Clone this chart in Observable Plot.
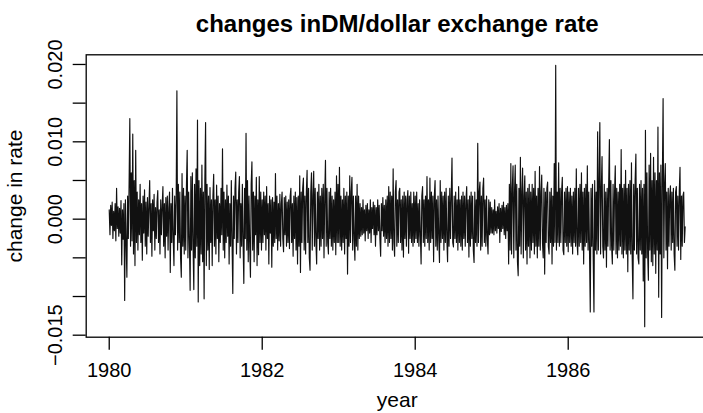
<!DOCTYPE html>
<html><head><meta charset="utf-8">
<script src="https://cdn.jsdelivr.net/npm/d3@7"></script>
<script src="https://cdn.jsdelivr.net/npm/@observablehq/plot@0.6"></script>
<style>html,body{margin:0;padding:0;background:#fff}svg{display:block}</style>
</head><body><div id="chart"></div>
<script>
const title = "changes inDM/dollar exchange rate";
const xLabel = "year";
const yLabel = "change in rate";
const xTicks = [1980, 1982, 1984, 1986];
const yTicks = [-0.015, -0.01, -0.005, 0, 0.005, 0.01, 0.015, 0.02];
const yLabelled = [0.02, 0.01, 0, -0.015];
const yLabelText = ["0.020", "0.010", "0.000", "\u22120.015"];
const firstYear = 1980;
const obsPerYear = 104;

const v1980 = [
.0012,-.0020,.0018,-.0008,.0022,-.0025,.0010,-.0015,.0020,-.0028,.0040,-.0012,.0016,
-.0022,.0014,-.0018,.0024,-.0059,.0012,-.0026,.0020,-.0105,.0025,-.0030,-.0075,.0030,
-.0025,.0045,.0130,-.0035,.0060,-.0028,.0110,-.0045,.0050,-.0060,.0089,-.0030,.0035,
-.0040,.0025,-.0020,.0045,-.0030,.0020,-.0053,.0030,-.0018,.0038,-.0035,.0022,-.0045,
.0028,-.0022,.0018,.0050,-.0030,.0020,-.0048,.0025,-.0015,.0032,-.0040,.0015,-.0025,
.0022,.0037,-.0030,.0012,-.0045,.0025,-.0020,.0018,.0042,-.0035,.0020,-.0050,.0028,
-.0022,.0030,-.0040,.0015,.0035,-.0069,.0020,-.0030,.0040,-.0025,-.0060,.0030,-.0020,
.0025,.0166,-.0040,.0045,-.0030,.0035,-.0050,-.0075,.0059,-.0035,.0040,-.0045,.0030];
const v1981 = [
-.0040,.0045,.0089,-.0050,.0035,-.0030,-.0092,.0055,-.0040,.0060,-.0035,-.0091,.0045,
-.0050,.0065,-.0035,.0128,-.0107,.0050,-.0060,.0040,-.0045,.0070,-.0055,.0035,-.0103,
.0050,.0125,-.0060,.0045,-.0040,.0030,-.0065,.0041,-.0030,.0025,-.0060,.0030,.0058,
-.0035,.0025,-.0045,.0044,-.0025,.0030,-.0055,.0020,-.0030,.0040,-.0020,.0091,-.0040,
.0035,-.0050,.0025,-.0030,.0044,-.0022,.0030,-.0058,.0020,-.0035,.0050,-.0030,-.0096,
.0030,-.0025,.0040,.0061,-.0045,.0025,-.0030,.0035,.0055,-.0050,.0020,-.0035,.0045,
-.0030,-.0083,.0040,-.0025,.0111,-.0040,.0050,-.0055,.0030,-.0035,-.0075,.0045,.0074,
-.0040,.0035,-.0055,.0030,-.0020,.0054,-.0060,.0025,-.0046,.0055,-.0030,.0035,-.0040];
const v1982 = [
.0025,-.0030,.0035,-.0020,.0030,-.0040,.0042,-.0025,.0020,-.0058,.0030,-.0018,.0025,
-.0062,.0028,-.0035,.0022,-.0030,.0059,-.0025,.0030,-.0040,.0020,-.0028,.0032,-.0035,
.0020,.0035,-.0025,-.0042,.0028,-.0020,.0030,-.0035,.0022,-.0030,.0025,-.0038,.0030,
.0040,-.0030,.0020,-.0048,.0030,-.0025,.0035,-.0040,.0028,-.0058,.0030,-.0035,.0056,
-.0069,.0035,-.0030,.0040,.0053,-.0040,.0030,-.0045,.0035,.0063,-.0030,.0040,-.0050,
-.0066,.0035,.0060,-.0040,.0030,.0062,-.0035,.0040,-.0030,-.0058,.0035,-.0025,.0045,
-.0040,.0030,-.0035,.0040,-.0025,.0045,-.0050,.0030,.0076,-.0035,.0040,-.0030,-.0045,
.0035,-.0025,.0040,-.0035,.0030,-.0040,.0025,-.0030,.0035,-.0046,.0056,-.0030,.0045];
const v1983 = [
-.0030,.0067,-.0035,.0030,-.0040,.0025,-.0030,.0040,-.0045,.0030,-.0025,.0035,-.0071,
.0030,-.0035,.0056,-.0030,.0035,.0054,-.0040,.0030,-.0025,-.0053,.0030,-.0035,.0045,
-.0040,.0030,-.0025,.0020,-.0022,.0015,-.0020,.0025,-.0018,.0012,-.0028,.0018,-.0015,
.0020,-.0025,.0012,-.0018,.0025,-.0030,.0015,-.0012,.0022,-.0020,.0018,-.0035,.0015,
-.0020,.0025,-.0015,.0018,-.0025,-.0048,.0020,-.0015,.0028,-.0022,.0018,-.0030,.0025,
-.0025,.0030,-.0035,.0042,-.0030,.0035,-.0025,.0030,-.0040,.0065,-.0030,-.0048,.0035,
.0050,-.0035,.0025,-.0030,.0035,.0040,-.0030,.0025,-.0040,.0030,-.0049,.0035,-.0025,
.0030,-.0035,.0025,.0037,-.0044,.0030,-.0025,.0035,-.0030,.0020,-.0035,.0035,-.0030];
const v1984 = [
.0030,-.0025,.0035,-.0030,.0020,-.0035,.0025,-.0020,-.0058,.0030,.0042,-.0030,.0025,
-.0035,.0030,-.0025,.0055,-.0030,.0025,-.0040,.0053,-.0030,.0035,-.0025,.0030,-.0055,
.0030,.0050,-.0035,.0025,-.0040,.0030,-.0025,-.0056,.0050,-.0030,.0035,-.0025,.0030,
-.0040,.0035,-.0030,.0040,-.0025,-.0055,.0030,-.0035,.0040,-.0025,.0030,.0079,-.0030,
-.0036,.0030,-.0025,.0035,-.0030,.0025,-.0040,.0042,-.0030,.0025,-.0035,.0030,-.0040,
.0035,-.0025,.0030,-.0035,.0025,.0042,-.0030,.0025,-.0049,.0030,-.0035,.0035,-.0025,
.0030,-.0040,-.0056,.0035,-.0030,.0025,-.0035,.0098,-.0030,.0035,.0048,-.0040,.0030,
-.0035,.0040,.0053,-.0030,.0025,-.0035,.0030,-.0025,-.0045,.0025,-.0020,.0022,-.0018];
const v1985 = [
.0015,-.0018,.0012,-.0020,.0025,-.0015,.0010,-.0018,.0016,-.0012,.0020,-.0030,.0014,
-.0016,.0018,-.0012,.0022,-.0020,.0015,-.0025,.0018,-.0015,.0020,-.0058,.0045,-.0040,
.0072,-.0045,.0040,.0069,-.0050,.0035,.0070,-.0040,.0045,-.0055,-.0073,.0040,-.0035,
.0080,-.0045,.0035,.0066,-.0050,.0030,.0056,-.0040,.0035,-.0058,.0040,-.0035,.0045,
-.0050,.0035,-.0040,.0045,-.0030,.0040,-.0045,.0062,-.0035,.0030,-.0050,.0040,-.0035,
.0068,-.0040,.0035,.0057,-.0030,-.0050,.0040,-.0071,.0035,-.0030,.0040,.0048,-.0035,
-.0045,.0035,-.0030,.0040,-.0058,.0030,-.0035,.0072,-.0030,.0199,-.0040,.0035,-.0030,
.0073,-.0035,.0040,-.0030,.0035,.0054,-.0040,-.0046,.0035,-.0030,.0040,-.0035,.0042];
const v1986 = [
-.0042,.0035,-.0030,.0040,-.0035,.0030,-.0045,.0035,-.0030,.0040,-.0035,.0065,-.0030,
-.0046,.0040,-.0035,.0045,-.0030,.0060,-.0040,.0035,-.0058,.0040,-.0035,.0045,-.0030,
.0069,-.0040,.0035,-.0045,-.0120,.0040,-.0035,.0045,-.0050,-.0120,.0050,-.0040,.0035,
-.0045,.0113,-.0040,.0050,.0125,-.0045,.0040,.0081,-.0035,-.0050,.0045,-.0040,.0035,
-.0062,.0040,-.0035,.0045,.0103,-.0040,.0050,-.0035,-.0058,.0045,-.0040,.0035,.0069,
-.0045,.0040,-.0050,.0035,-.0040,.0045,-.0035,.0090,-.0045,.0040,-.0050,.0045,-.0040,
.0063,-.0045,.0040,-.0068,.0045,-.0040,.0050,-.0045,.0073,-.0050,-.0103,.0045,-.0040,
.0050,.0084,-.0045,.0040,-.0050,-.0058,.0045,-.0040,.0050,-.0045,.0040,-.0080,.0045];
const v1987 = [
-.0139,.0115,-.0050,.0060,-.0045,-.0079,.0070,-.0040,.0085,-.0055,.0050,-.0060,.0080,
-.0045,.0060,-.0070,.0050,-.0040,.0119,-.0101,.0060,-.0045,.0070,-.0127,.0050,.0156,
-.0050,.0045,.0072,-.0040,.0035,-.0064,.0040,-.0035,.0030,.0043,-.0040,.0035,-.0030,
.0040,-.0045,-.0066,.0035,.0042,-.0035,.0030,-.0040,.0035,.0067,-.0052,.0030,-.0035,
.0030,.0035,-.0030,-.0010];

const yearly = [v1980, v1981, v1982, v1983, v1984, v1985, v1986, v1987];
const series = yearly.flatMap((vals, k) =>
  vals.map((v, j) => ({t: firstYear + k + j / obsPerYear, v})));

const xDomain = [1979.699, 1987.83];
const yDomain = [-0.01526, 0.02125];
const font = "'Liberation Sans', Arial, Helvetica, sans-serif";

const chart = Plot.plot({
  width: 703,
  height: 413,
  marginLeft: 85.7,
  marginRight: -4.7,
  marginTop: 54.3,
  marginBottom: 76.3,
  style: {fontFamily: font, fontSize: "20px", color: "black", background: "white"},
  x: {domain: xDomain},
  y: {domain: yDomain},
  marks: [
    Plot.line(series, {x: "t", y: "v", stroke: "#111", strokeWidth: 1.15}),
    Plot.frame({stroke: "black", strokeWidth: 1.3}),
    Plot.axisX(xTicks, {anchor: "bottom", tickSize: 13, tickPadding: 13, strokeWidth: 1.3,
      fontSize: 20, tickFormat: d => String(d), label: null}),
    Plot.axisY(yTicks, {anchor: "left", tickSize: 13, strokeWidth: 1.3,
      tickFormat: () => "", label: null}),
    Plot.text(yLabelled, {y: d => d, text: (d, i) => yLabelText[i], frameAnchor: "left",
      dx: -24, rotate: -90, textAnchor: "middle", lineAnchor: "bottom", fontSize: 20, fill: "black"}),
    Plot.text([yLabel], {text: d => d, frameAnchor: "left", dx: -63.7, rotate: -90,
      textAnchor: "middle", lineAnchor: "bottom", fontSize: 21, fill: "black"}),
    Plot.text([xLabel], {text: d => d, frameAnchor: "bottom", dy: 70, lineAnchor: "bottom",
      fontSize: 21, fill: "black"}),
    Plot.text([title], {text: d => d, frameAnchor: "top", dy: -23.3, lineAnchor: "bottom",
      fontSize: 24, fontWeight: "bold", fill: "black"})
  ]
});
document.getElementById("chart").appendChild(chart);
</script>
</body></html>
